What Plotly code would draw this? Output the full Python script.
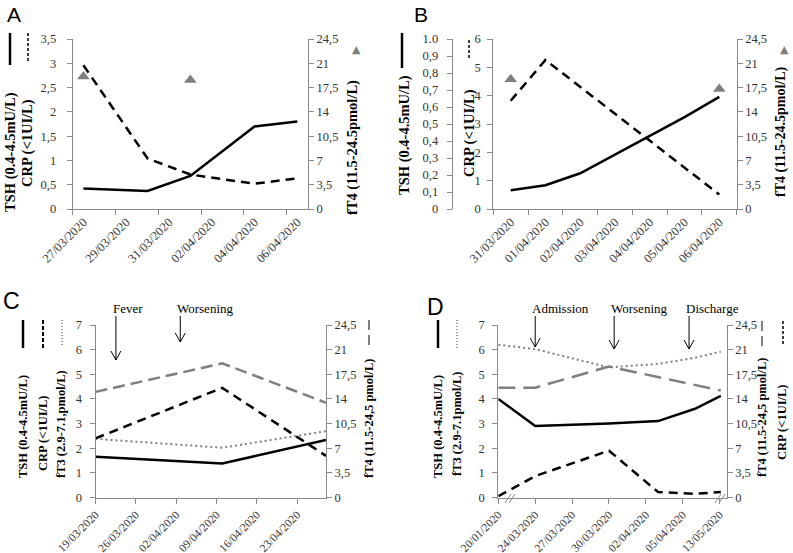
import plotly.graph_objects as go

W, H = 793, 553
def px(x): return x / W
def py(y): return 1 - y / H

SERIF = "Liberation Serif"
SANS = "Liberation Sans"
AXC = "#8a8a8a"
TICK = "#333333"
GRAY = "#7f7f7f"

# ---------------- Panel A data ----------------
a_dates = ["2020-03-27", "2020-03-28", "2020-03-29", "2020-03-30", "2020-03-31", "2020-04-01",
           "2020-04-02", "2020-04-03", "2020-04-04", "2020-04-05", "2020-04-06"]
a_tsh = [0.42, None, 0.38, 0.37, None, 0.68, None, None, 1.70, None, 1.80]
a_crp = [2.96, None, None, 1.04, None, 0.71, None, None, 0.52, None, 0.63]
a_ft4 = [19.1, None, None, None, None, 18.6, None, None, None, None, None]
a_tickvals = ["2020-03-27", "2020-03-29", "2020-03-31", "2020-04-02", "2020-04-04", "2020-04-06"]
a_ticktext = ["27/03/2020", "29/03/2020", "31/03/2020", "02/04/2020", "04/04/2020", "06/04/2020"]

# ---------------- Panel B data ----------------
b_dates = ["2020-03-31", "2020-04-01", "2020-04-02", "2020-04-03", "2020-04-04", "2020-04-05", "2020-04-06"]
b_tsh = [0.11, 0.14, 0.21, 0.32, 0.43, 0.54, 0.66]
b_crp = [3.82, 5.26, None, None, None, None, 0.51]
b_ft4 = [18.7, None, None, None, None, None, 17.3]
b_ticktext = ["31/03/2020", "01/04/2020", "02/04/2020", "03/04/2020", "04/04/2020", "05/04/2020", "06/04/2020"]
b_tsh_tickvals = [0, 0.1, 0.2, 0.3, 0.4, 0.5, 0.6, 0.7, 0.8, 0.9, 1.0]
b_tsh_ticktext = ["0", "0,1", "0,2", "0,3", "0,4", "0,5", "0,6", "0,7", "0,8", "0,9", "1.0"]

# ---------------- Panel C data ----------------
c_dates = ["2020-03-19", "2020-04-10", "2020-04-28"]
c_tsh = [1.65, 1.38, 2.33]
c_crp = [2.40, 4.45, 1.69]
c_ft3 = [2.38, 2.02, 2.69]
c_ft4 = [15.0, 19.05, 13.46]
c_tickvals = ["2020-03-19", "2020-03-26", "2020-04-02", "2020-04-09", "2020-04-16", "2020-04-23"]
c_ticktext = ["19/03/2020", "26/03/2020", "02/04/2020", "09/04/2020", "16/04/2020", "23/04/2020"]
c_events = ["Fever", "Worsening"]
c_event_dates = ["2020-03-22 13:00", "2020-04-02 17:00"]

# ---------------- Panel D data ----------------
d_pos = [0, 1, 3, 4.33, 5.33, 6.03]
d_tsh = [4.0, 2.9, 3.0, 3.1, 3.6, 4.12]
d_crp = [0.05, 0.87, 1.9, 0.22, 0.15, 0.22]
d_ft3 = [6.2, 6.02, 5.28, 5.42, 5.67, 5.92]
d_ft4 = [15.6, 15.6, 18.6, None, None, 15.2]
d_tickvals = [0, 1, 2, 3, 4, 5, 6]
d_ticktext = ["20/01/2020", "24/03/2020", "27/03/2020", "30/03/2020", "02/04/2020", "05/04/2020", "13/05/2020"]
d_events = ["Admission", "Worsening", "Discharge"]
d_event_pos = [1.0, 3.14, 5.17]

fig = go.Figure()

def line(x, y, xa, ya, color="black", width=2.5, dash="solid"):
    fig.add_trace(go.Scatter(x=x, y=y, xaxis=xa, yaxis=ya, mode="lines", connectgaps=True,
                             line=dict(color=color, width=width, dash=dash), hoverinfo="skip"))

def tri(x, y, xa, ya):
    fig.add_trace(go.Scatter(x=x, y=y, xaxis=xa, yaxis=ya, mode="markers",
                             marker=dict(symbol="triangle-up", size=11, color=GRAY), hoverinfo="skip"))

CRP_DASH = "9px,6px"
# A
line(a_dates, a_tsh, "x", "y")
line(a_dates, a_crp, "x", "y", dash=CRP_DASH)
tri(a_dates, a_ft4, "x", "y2")
# B
line(b_dates, b_tsh, "x2", "y4")
line(b_dates, b_crp, "x2", "y3", dash=CRP_DASH)
tri(b_dates, b_ft4, "x2", "y5")
# C
line(c_dates, c_ft4, "x3", "y7", color=GRAY, width=2.5, dash="12px,6px")
line(c_dates, c_ft3, "x3", "y6", color=GRAY, width=2, dash="2px,3px")
line(c_dates, c_tsh, "x3", "y6")
line(c_dates, c_crp, "x3", "y6", dash=CRP_DASH)
# D
line(d_pos, d_ft4, "x4", "y9", color=GRAY, width=2.5, dash="17px,8px")
line(d_pos, d_ft3, "x4", "y8", color=GRAY, width=2, dash="2px,3px")
line(d_pos, d_tsh, "x4", "y8")
line(d_pos, d_crp, "x4", "y8", dash=CRP_DASH)

def ax(**kw):
    base = dict(showline=True, linecolor=AXC, linewidth=1, ticks="outside", ticklen=5, tickcolor=AXC,
                showgrid=False, zeroline=False, automargin=False,
                tickfont=dict(family=SERIF, size=12.5, color=TICK))
    base.update(kw)
    return base

yA = [py(209), py(39)]
yC = [py(497.5), py(325)]
DAY = 86400000
XF_AB = dict(family=SERIF, size=12.5, color=TICK)
XF_CD = dict(family=SERIF, size=11.5, color=TICK)

layout = dict(
    width=W, height=H, margin=dict(l=0, r=0, t=0, b=0, autoexpand=False),
    paper_bgcolor="white", plot_bgcolor="rgba(0,0,0,0)", showlegend=False, separators=", ",
    # A
    xaxis=ax(domain=[px(72.7), px(308)], anchor="y", type="date",
             range=["2020-03-26 12:00", "2020-04-06 12:00"], tickmode="array",
             tickvals=a_tickvals, ticktext=a_ticktext, ticks="", tickangle=-45, tickfont=XF_AB,
             minor=dict(ticks="outside", ticklen=5, tickcolor=AXC, tick0="2020-03-26 12:00", dtick=2 * DAY)),
    yaxis=ax(domain=yA, anchor="x", range=[0, 3.5], dtick=0.5, ticklabelstandoff=8),
    yaxis2=ax(domain=yA, anchor="x", overlaying="y", side="right", range=[0, 24.5], dtick=3.5),
    # B
    xaxis2=ax(domain=[px(493.3), px(736.7)], anchor="y3", type="date",
              range=["2020-03-30 12:00", "2020-04-06 12:00"], tickmode="array",
              tickvals=b_dates, ticktext=b_ticktext, ticks="", tickangle=-45, tickfont=XF_AB,
              minor=dict(ticks="outside", ticklen=5, tickcolor=AXC, tick0="2020-03-30 12:00", dtick=DAY)),
    yaxis3=ax(domain=yA, anchor="x2", range=[0, 6], dtick=1, ticklabelstandoff=4),
    yaxis4=ax(domain=yA, anchor="free", position=px(451.7), overlaying="y3", side="left",
              range=[0, 1], tickmode="array", tickvals=b_tsh_tickvals, ticktext=b_tsh_ticktext,
              ticklabelstandoff=6),
    yaxis5=ax(domain=yA, anchor="x2", overlaying="y3", side="right", range=[0, 24.5], dtick=3.5),
    # C
    xaxis3=ax(domain=[px(95.5), px(326)], anchor="y6", type="date",
              range=["2020-03-19", "2020-04-28"], tickmode="array",
              tickvals=c_tickvals, ticktext=c_ticktext, tickangle=-45, tickfont=XF_CD),
    yaxis6=ax(domain=yC, anchor="x3", range=[0, 7], dtick=1, ticklabelstandoff=5),
    yaxis7=ax(domain=yC, anchor="x3", overlaying="y6", side="right", range=[0, 24.5], dtick=3.5),
    # D
    xaxis4=ax(domain=[px(498.3), px(726.7)], anchor="y8", range=[0, 6.19], tickmode="array",
              tickvals=d_tickvals, ticktext=d_ticktext, tickangle=-45, tickfont=XF_CD),
    yaxis8=ax(domain=yC, anchor="x4", range=[0, 7], dtick=1, ticklabelstandoff=5),
    yaxis9=ax(domain=yC, anchor="x4", overlaying="y8", side="right", range=[0, 24.5], dtick=3.5),
)
fig.update_layout(**layout)

annotations = []
shapes = []

def title(text, x, y, size):
    annotations.append(dict(text=text, x=px(x), y=py(y), xref="paper", yref="paper", showarrow=False,
                            textangle=-90, xanchor="center", yanchor="middle",
                            font=dict(family=SERIF, size=size, color="black", weight="bold")))

def letter(text, x, y, size):
    annotations.append(dict(text=text, x=px(x), y=py(y), xref="paper", yref="paper", showarrow=False,
                            xanchor="left", yanchor="top", font=dict(family=SANS, size=size, color="black")))

def key(x, y0, y1, color="black", width=2.5, dash="solid"):
    shapes.append(dict(type="line", xref="paper", yref="paper", x0=px(x), x1=px(x), y0=py(y0), y1=py(y1),
                       line=dict(color=color, width=width, dash=dash)))

def tri_key(x, y):
    annotations.append(dict(text="▲", x=px(x), y=py(y), xref="paper", yref="paper", showarrow=False,
                            xanchor="center", yanchor="middle", font=dict(family="DejaVu Sans", size=11, color=GRAY)))

# panel letters
letter("A", 5, 1, 21)
letter("B", 412, 1, 21)
letter("C", 1, 286, 23)
letter("D", 425, 292, 23)

# A titles and keys
title("TSH (0.4-4.5mU/L)", 10, 152, 14.5)
title("CRP (&lt;1UI/L)", 28, 143, 14.5)
title("fT4 (11.5-24.5pmol/L)", 352, 148, 14.5)
key(10, 33, 65)
key(28, 33, 63, width=1.5, dash="3px,2px")
tri_key(356, 50)

# B titles and keys
title("TSH (0.4-4.5mU/L)", 404, 135, 14.5)
title("CRP (&lt;1UI/L)", 470, 133, 14.5)
title("fT4 (11.5-24.5pmol/L)", 781, 132, 14)
key(402, 33, 68)
key(469, 40, 60, width=1.5, dash="3px,2px")
tri_key(784, 50)

# C titles and keys
title("TSH (0.4-4.5mU/L)", 23, 427, 12.5)
title("CRP (&lt;1UI/L)", 43, 433, 12.5)
title("fT3 (2.9-7.1,pmol/L)", 61, 424, 12.5)
title("fT4 (11.5-24,5 pmol/L)", 369, 419, 12.5)
key(23, 320, 348)
key(43, 320, 348, width=2, dash="4px,2px")
key(62, 320, 346, color=GRAY, width=1.5, dash="1px,2px")
key(369, 320, 348, color=GRAY, width=2, dash="10px,5px")

# D titles and keys
title("TSH (0.4-4.5mU/L)", 438, 427, 12.5)
title("fT3 (2.9-7.1pmol/L)", 457, 424, 12.5)
title("fT4 (11.5-24,5 pmol/L)", 762, 418, 12.5)
title("CRP (&lt;1UI/L)", 782, 422, 12.5)
key(438, 320, 348)
key(457, 320, 348, color=GRAY, width=1.5, dash="1px,2px")
key(762, 321, 346, color=GRAY, width=2, dash="10px,5px")
key(783, 321, 346, width=1.5, dash="3px,2px")

# event arrows
def event(text, xval, xref, top, bottom):
    annotations.append(dict(text=text, x=xval, xref=xref, y=py(308), yref="paper", showarrow=False,
                            xanchor="left", yanchor="middle", xshift=-5,
                            font=dict(family=SERIF, size=13, color="black")))
    shapes.append(dict(type="line", xref=xref, yref="paper", x0=xval, x1=xval, y0=py(top), y1=py(bottom),
                       line=dict(color="black", width=1)))
    for dx in (-5, 5):
        shapes.append(dict(type="line", xref=xref, yref="paper", xsizemode="pixel", xanchor=xval,
                           x0=dx, x1=0, y0=py(bottom - 9), y1=py(bottom),
                           line=dict(color="black", width=1)))

c_bottoms = [360, 342]
for t, d, b in zip(c_events, c_event_dates, c_bottoms):
    event(t, d, "x3", 316, b)
d_bottoms = [347, 349, 349]
for t, d, b in zip(d_events, d_event_pos, d_bottoms):
    event(t, d, "x4", 316, b)

# axis break marks on D
for bx in (505, 715):
    for off in (0, 4):
        shapes.append(dict(type="line", xref="paper", yref="paper",
                           x0=px(bx + off), x1=px(bx + off + 6), y0=py(503), y1=py(494),
                           line=dict(color=AXC, width=1)))

fig.update_layout(annotations=annotations, shapes=shapes)
fig.write_html("out.html", config={"displayModeBar": False, "staticPlot": True},
               post_script="document.body.style.margin='0px';document.body.style.overflow='hidden';")
